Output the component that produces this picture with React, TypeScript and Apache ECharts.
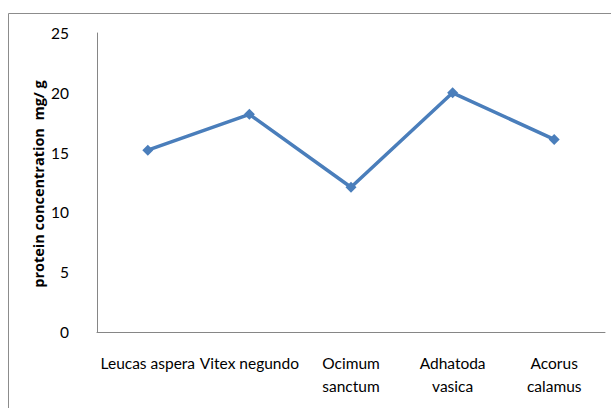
import React, { useEffect, useRef } from "react";
import * as echarts from "echarts";

const categories = [
  "Leucas aspera",
  "Vitex negundo",
  "Ocimum\nsanctum",
  "Adhatoda\nvasica",
  "Acorus\ncalamus",
];
const proteinValues = [15.2, 18.2, 12.1, 20.0, 16.1];
const yTicks = { min: 0, max: 25, interval: 5 };
const yAxisTitle = "protein concentration  mg/ g";

const FONT = "Lato, 'Open Sans', sans-serif";

export default function App() {
  const ref = useRef<HTMLDivElement>(null);
  useEffect(() => {
    if (!ref.current) return;
    const chart = echarts.init(ref.current, undefined, { renderer: "svg" });
    chart.setOption({
      animation: false,
      backgroundColor: "#ffffff",
      grid: { left: 97, top: 33, right: 6, bottom: 76, containLabel: false },
      graphic: [
        {
          type: "rect",
          shape: { x: 8.5, y: 13.5, width: 700, height: 500 },
          style: { fill: "none", stroke: "#8c8c8c", lineWidth: 1 },
          silent: true,
        },
        {
          type: "text",
          x: 38,
          y: 184,
          rotation: Math.PI / 2,
          style: {
            text: yAxisTitle,
            fontFamily: "'Open Sans', sans-serif",
            fontSize: 14.5,
            fontWeight: "bold",
            fill: "#000",
            align: "center",
            verticalAlign: "middle",
          },
        },
      ],
      xAxis: {
        type: "category",
        data: categories,
        boundaryGap: true,
        axisLine: { lineStyle: { color: "#868686", width: 1 } },
        axisTick: { show: false },
        axisLabel: {
          interval: 0,
          color: "#000",
          fontFamily: FONT,
          fontSize: 15.5,
          lineHeight: 23,
          margin: 19,
        },
      },
      yAxis: {
        type: "value",
        min: yTicks.min,
        max: yTicks.max,
        interval: yTicks.interval,
        splitLine: { show: false },
        axisLine: { show: true, lineStyle: { color: "#868686", width: 1 } },
        axisTick: { show: false },
        axisLabel: {
          color: "#000",
          fontFamily: FONT,
          fontSize: 15.5,
          margin: 28,
        },
      },
      series: [
        {
          type: "line",
          data: proteinValues,
          symbol: "diamond",
          symbolSize: 11,
          lineStyle: { color: "#4a7ebb", width: 3.5 },
          itemStyle: { color: "#4a7ebb" },
        },
      ],
    });
    return () => chart.dispose();
  }, []);
  return (
    <div
      ref={ref}
      style={{ position: "absolute", left: 0, top: 0, width: 611, height: 408 }}
    />
  );
}
